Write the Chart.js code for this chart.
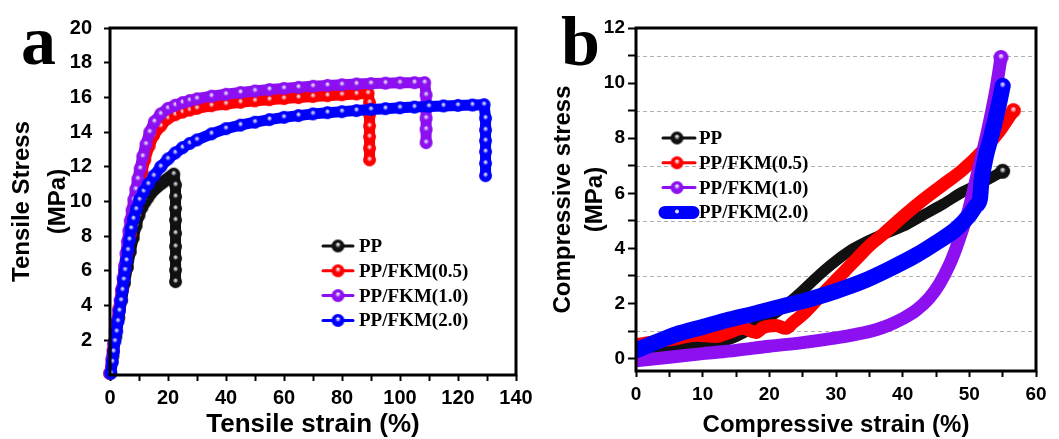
<!DOCTYPE html>
<html>
<head>
<meta charset="utf-8">
<script src="https://cdn.jsdelivr.net/npm/chart.js@4/dist/chart.umd.min.js"></script>
<style>
  html, body { margin: 0; padding: 0; background: #fff; }
  #wrap { position: relative; width: 1059px; height: 439px; overflow: hidden; }
  #chartA { position: absolute; left: 0; top: 0; }
  #chartB { position: absolute; left: 530px; top: 0; }
</style>
</head>
<body>
<div id="wrap">
  <canvas id="chartA" width="545" height="439"></canvas>
  <canvas id="chartB" width="529" height="439"></canvas>
</div>
<script>
// series
var seriesLabels = ['PP', 'PP/FKM(0.5)', 'PP/FKM(1.0)', 'PP/FKM(2.0)'];
var seriesColors = ['#111111', '#ff0000', '#8c10f0', '#0000ff'];

// (a) tensile - tick labels
var tensileXLabels = [0, 20, 40, 60, 80, 100, 120, 140];
var tensileYLabels = [2, 4, 6, 8, 10, 12, 14, 16, 18, 20];

// (a) tensile curves (strain %, stress MPa)
var ppTensileStrain = [0, 1, 2, 3, 4, 5, 6, 7, 8, 9, 10, 11, 12, 13, 14, 15, 16, 17, 18, 19, 20, 21, 22,
  22.6, 22.6, 22.6, 22.6, 22.6, 22.6, 22.6, 22.6, 22.6];
var ppTensileStress = [0.1, 1.1, 2.2, 3.3, 4.3, 5.3, 6.2, 7.1, 7.9, 8.6, 9.2, 9.65, 9.95, 10.2, 10.45, 10.65, 10.8, 10.95, 11.07, 11.2, 11.32, 11.45, 11.58,
  10.95, 10.28, 9.6, 8.93, 8.17, 7.4, 6.72, 6.05, 5.38];

var fkm05TensileStrain = [0, 1, 2, 3, 4, 5, 6, 7, 8, 9, 10, 11, 12, 13.5, 15, 17.5, 20, 22.5, 25, 27.5,
  30, 35, 40, 45, 50, 55, 60, 65, 70, 75, 80, 85, 89, 89.5, 89.5, 89.5, 89.5, 89.5, 89.5];
var fkm05TensileStress = [0.1, 1.4, 2.6, 3.8, 4.9, 6.0, 7.1, 8.1, 9.1, 10.0, 10.9, 11.7, 12.4, 13.2, 13.8, 14.35, 14.8, 15.0, 15.15, 15.27,
  15.37, 15.52, 15.62, 15.72, 15.8, 15.87, 15.93, 15.99, 16.05, 16.1, 16.15, 16.2, 16.24, 15.7, 15.0, 14.35, 13.73, 13.07, 12.4];

var fkm10TensileStrain = [0, 0.6, 1.2, 1.8, 2.4, 3.0, 3.5, 4.0, 4.5, 5.0, 5.5, 6.0, 6.5, 7.0, 7.6, 8.2, 8.9, 9.6, 10.4, 11.3,
  12.4, 13.7, 15.3, 17.5, 20, 22.5, 25, 27.5, 30, 35, 40, 45, 50, 55, 60, 65, 70, 75, 80, 85,
  90, 95, 100, 105, 108.5, 109, 109, 109, 109];
var fkm10TensileStress = [0.1, 0.9, 1.8, 2.5, 3.1, 3.7, 4.3, 4.9, 5.6, 6.3, 7.0, 7.7, 8.3, 8.9, 9.5, 10.1, 10.7, 11.3, 11.9, 12.6,
  13.3, 14.0, 14.6, 15.05, 15.37, 15.55, 15.7, 15.82, 15.92, 16.07, 16.18, 16.28, 16.37, 16.45, 16.52, 16.58, 16.64, 16.69, 16.73, 16.77,
  16.8, 16.82, 16.84, 16.85, 16.85, 16.14, 14.8, 14.16, 13.39];

var fkm20TensileStrain = [0.3, 0.8, 1.2, 1.7, 2.3, 2.75, 3.25, 3.8, 4.3, 4.75, 5.2, 5.7, 6.2, 6.7, 7.3, 8.1, 9.05, 10.2, 11.6, 13.2,
  15.1, 17.5, 20, 22.5, 25, 27.5, 30, 35, 40, 45, 50, 55, 60, 65, 70, 75, 80, 85, 90, 95,
  100, 105, 110, 115, 120, 125, 129, 129.5, 129.5, 129.5, 129.5, 129.5, 129.5];
var fkm20TensileStress = [0.1, 0.75, 1.35, 1.95, 2.5, 3.1, 3.7, 4.3, 4.9, 5.5, 6.05, 6.6, 7.2, 7.8, 8.45, 9.0, 9.55, 10.1, 10.57, 11.0,
  11.47, 12.0, 12.45, 12.8, 13.1, 13.35, 13.55, 13.9, 14.2, 14.4, 14.57, 14.72, 14.85, 14.95, 15.05, 15.12, 15.18, 15.24, 15.3, 15.35,
  15.4, 15.44, 15.48, 15.51, 15.54, 15.56, 15.58, 14.8, 14.12, 13.5, 12.87, 12.2, 11.49];

// (b) compressive - tick labels and dashed lines
var compXLabels = [0, 10, 20, 30, 40, 50, 60];
var compYLabels = [0, 2, 4, 6, 8, 10, 12];
var compGridLines = [1, 3, 5, 7, 9, 11];

// (b) compressive curves
var ppCompStrain = [0, 3, 6, 10, 14, 17, 20, 22, 24, 26, 28, 30, 32, 34, 36, 38, 40, 43, 46, 49, 52, 55];
var ppCompStress = [0.2, 0.3, 0.4, 0.52, 0.7, 1.05, 1.5, 1.85, 2.25, 2.7, 3.15, 3.55, 3.9, 4.17, 4.4, 4.6, 4.8, 5.2, 5.6, 6.05, 6.4, 6.8];

var fkm05CompStrain = [0, 3, 6, 9, 12, 14, 16, 18, 19, 21, 22.5, 23.5, 25, 27, 29, 31, 33, 35, 37, 40, 43, 46, 49, 52, 54.5, 56.6];
var fkm05CompStress = [0.5, 0.62, 0.72, 0.85, 0.8, 0.95, 1.1, 0.95, 1.12, 1.2, 1.1, 1.3, 1.6, 2.1, 2.6, 3.1, 3.6, 4.1, 4.5, 5.15, 5.75, 6.3, 6.85, 7.55, 8.25, 9.0];

var fkm10CompStrain = [0, 5, 10, 15, 20, 25, 30, 33, 36, 38, 40, 42, 44, 45.5, 47, 48, 49, 50, 50.8, 51.5, 52.1, 53, 54, 54.75];
var fkm10CompStress = [-0.08, 0.05, 0.18, 0.3, 0.45, 0.58, 0.75, 0.88, 1.05, 1.22, 1.45, 1.75, 2.2, 2.7, 3.4, 4.0, 4.7, 5.5, 6.3, 7.0, 7.6, 8.57, 9.78, 10.93];

var fkm20CompStrain = [0, 3, 6, 10, 14, 18, 22, 26, 30, 34, 38, 42, 45, 48, 50, 51, 51.6, 51.8, 52.5, 53.2, 53.8, 54.5, 55];
var fkm20CompStress = [0.3, 0.6, 0.88, 1.15, 1.42, 1.65, 1.9, 2.15, 2.45, 2.8, 3.25, 3.75, 4.2, 4.7, 5.2, 5.55, 5.8, 6.4, 7.36, 8.0, 8.57, 9.3, 9.9];


function pts(xs, ys) {
  return xs.map(function (x, i) { return { x: x, y: ys[i] }; });
}

// shiny ball used as marker
function bead(color, r) {
  var c = document.createElement('canvas');
  var s = Math.ceil(2 * r + 2);
  c.width = c.height = s;
  var g = c.getContext('2d');
  var m = s / 2;
  var grd = g.createRadialGradient(m, m - r * 0.25, 0, m, m, r);
  grd.addColorStop(0, 'rgba(255,255,255,0.95)');
  grd.addColorStop(0.18, 'rgba(235,235,255,0.7)');
  grd.addColorStop(0.4, color);
  grd.addColorStop(1, color);
  g.fillStyle = grd;
  g.beginPath();
  g.arc(m, m, r, 0, Math.PI * 2);
  g.fill();
  return c;
}

var smallBeads = seriesColors.map(function (c) { return bead(c, 6.5); });
var bigBeads = seriesColors.map(function (c) { return bead(c, 7.5); });
var legendBeads = seriesColors.map(function (c) { return bead(c, 6.5); });

function tensileSet(i, xs, ys) {
  return {
    label: seriesLabels[i],
    data: pts(xs, ys),
    borderColor: seriesColors[i],
    backgroundColor: seriesColors[i],
    borderWidth: 11,
    borderJoinStyle: 'round',
    borderCapStyle: 'round',
    pointStyle: smallBeads[i],
    pointRadius: 6,
    tension: 0,
    order: 4 - i,
    clip: false
  };
}

function compSet(i, xs, ys, w) {
  var last = xs.length - 1;
  return {
    label: seriesLabels[i],
    data: pts(xs, ys),
    borderColor: seriesColors[i],
    backgroundColor: seriesColors[i],
    borderWidth: w,
    borderCapStyle: 'round',
    borderJoinStyle: 'round',
    cubicInterpolationMode: 'monotone',
    pointStyle: bigBeads[i],
    pointRadius: function (ctx) { return ctx.dataIndex === last ? 7 : 0; },
    order: 4 - i,
    clip: { left: 0, top: 20, right: 20, bottom: 0 }
  };
}

// box, dashed lines, legend, panel letter
var panelPlugin = {
  id: 'panel',
  beforeDatasetsDraw: function (chart, args, o) {
    if (!o.grid) return;
    var ctx = chart.ctx, a = chart.chartArea, ys = chart.scales.y;
    ctx.save();
    ctx.strokeStyle = '#b0b0b0';
    ctx.lineWidth = 1;
    ctx.setLineDash([4, 3]);
    o.grid.forEach(function (v) {
      var y = Math.round(ys.getPixelForValue(v)) + 0.5;
      ctx.beginPath();
      ctx.moveTo(a.left, y);
      ctx.lineTo(a.right, y);
      ctx.stroke();
    });
    ctx.restore();
  },
  afterDatasetsDraw: function (chart) {
    var ctx = chart.ctx, a = chart.chartArea;
    ctx.save();
    ctx.strokeStyle = '#000';
    ctx.lineWidth = 3;
    ctx.strokeRect(a.left, a.top, a.right - a.left, a.bottom - a.top);
    ctx.restore();
  },
  afterDraw: function (chart, args, o) {
    var ctx = chart.ctx;
    var lg = o.legend;
    ctx.save();
    chart.data.datasets.forEach(function (ds, i) {
      var y = lg.y + i * lg.dy;
      ctx.strokeStyle = ds.borderColor;
      ctx.lineCap = 'round';
      if (lg.bar === i) {
        ctx.lineWidth = 13;
        ctx.beginPath();
        ctx.moveTo(lg.barX0, y);
        ctx.lineTo(lg.barX1, y);
        ctx.stroke();
        ctx.fillStyle = '#ddddff';
        ctx.beginPath();
        ctx.arc(lg.dot, y - 1, 2, 0, Math.PI * 2);
        ctx.fill();
      } else {
        ctx.lineWidth = 3;
        ctx.beginPath();
        ctx.moveTo(lg.x0, y);
        ctx.lineTo(lg.x1, y);
        ctx.stroke();
        var b = legendBeads[i];
        ctx.drawImage(b, lg.dot - b.width / 2, y - b.height / 2);
      }
      ctx.fillStyle = '#000';
      ctx.font = 'bold 19px "Liberation Serif"';
      ctx.textBaseline = 'middle';
      ctx.textAlign = 'left';
      ctx.fillText(ds.label, lg.text, y + 1);
    });
    ctx.font = 'bold 70px "Liberation Serif"';
    ctx.textBaseline = 'alphabetic';
    ctx.fillText(o.letter.text, o.letter.x, o.letter.y);
    ctx.restore();
  }
};

var tickFont = function (size) { return { family: 'Liberation Sans', weight: 'bold', size: size }; };

new Chart(document.getElementById('chartA'), {
  type: 'line',
  data: {
    datasets: [
      tensileSet(0, ppTensileStrain, ppTensileStress),
      tensileSet(1, fkm05TensileStrain, fkm05TensileStress),
      tensileSet(2, fkm10TensileStrain, fkm10TensileStress),
      tensileSet(3, fkm20TensileStrain, fkm20TensileStress)
    ]
  },
  options: {
    responsive: false,
    animation: false,
    events: [],
    devicePixelRatio: 1,
    layout: { padding: { top: 28, right: 29, left: 0, bottom: 0 } },
    plugins: {
      legend: { display: false },
      tooltip: { enabled: false },
      panel: {
        legend: { y: 246, dy: 24.8, x0: 323, x1: 353, dot: 338, text: 359 },
        letter: { text: 'a', x: 21, y: 64 }
      }
    },
    scales: {
      x: {
        type: 'linear', min: 0, max: 140,
        afterFit: function (s) { s.height = 64; },
        ticks: {
          stepSize: 10, autoSkip: false, maxRotation: 0, padding: 5, color: '#000', font: tickFont(20),
          callback: function (v) { return tensileXLabels.indexOf(v) >= 0 ? v : ''; }
        },
        grid: { drawOnChartArea: false, drawTicks: true, tickLength: 6, tickWidth: 2, tickColor: '#000' },
        border: { display: false },
        title: { display: true, text: 'Tensile strain (%)', color: '#000',
          font: { family: 'Liberation Sans', weight: 'bold', size: 26, lineHeight: 1 }, padding: { top: 0, bottom: 1 } }
      },
      y: {
        type: 'linear', min: 0, max: 20,
        afterFit: function (s) { s.width = 110; },
        ticks: {
          stepSize: 2, autoSkip: false, padding: 12, color: '#000', font: tickFont(20),
          callback: function (v) { return tensileYLabels.indexOf(v) >= 0 ? v : ''; }
        },
        grid: { drawOnChartArea: false, drawTicks: true, tickLength: 6, tickWidth: 2, tickColor: '#000' },
        border: { display: false },
        title: { display: true, text: ['Tensile Stress', '(MPa)'], color: '#000',
          font: { family: 'Liberation Sans', weight: 'bold', size: 24, lineHeight: 1.5 }, padding: { top: 4, bottom: 0 } }
      }
    }
  },
  plugins: [panelPlugin]
});

new Chart(document.getElementById('chartB'), {
  type: 'line',
  data: {
    datasets: [
      compSet(0, ppCompStrain, ppCompStress, 11),
      compSet(1, fkm05CompStrain, fkm05CompStress, 13),
      compSet(2, fkm10CompStrain, fkm10CompStress, 13),
      compSet(3, fkm20CompStrain, fkm20CompStress, 16)
    ]
  },
  options: {
    responsive: false,
    animation: false,
    events: [],
    devicePixelRatio: 1,
    layout: { padding: { top: 28, right: 15, left: 0, bottom: 0 } },
    plugins: {
      legend: { display: false },
      tooltip: { enabled: false },
      panel: {
        grid: compGridLines,
        legend: { y: 138, dy: 24.8, x0: 133, x1: 165, dot: 147, text: 169, bar: 3, barX0: 135, barX1: 163 },
        letter: { text: 'b', x: 31, y: 65 }
      }
    },
    scales: {
      x: {
        type: 'linear', min: 0, max: 60,
        afterFit: function (s) { s.height = 68; },
        ticks: {
          stepSize: 5, autoSkip: false, maxRotation: 0, padding: 6, color: '#000', font: tickFont(19),
          callback: function (v) { return compXLabels.indexOf(v) >= 0 ? v : ''; }
        },
        grid: { drawOnChartArea: false, drawTicks: true, tickLength: 6, tickWidth: 2, tickColor: '#000' },
        border: { display: false },
        title: { display: true, text: 'Compressive strain (%)', color: '#000',
          font: { family: 'Liberation Sans', weight: 'bold', size: 24, lineHeight: 1 }, padding: { top: 0, bottom: 2 } }
      },
      y: {
        type: 'linear', min: -0.45, max: 12,
        afterFit: function (s) { s.width = 106; },
        afterBuildTicks: function (s) {
          s.ticks = s.ticks.filter(function (t) { return Number.isInteger(t.value); });
        },
        ticks: {
          stepSize: 1, autoSkip: false, includeBounds: false, padding: 3, color: '#000', font: tickFont(19),
          callback: function (v) { return compYLabels.indexOf(v) >= 0 ? v : ''; }
        },
        grid: { drawOnChartArea: false, drawTicks: true, tickLength: 8, tickWidth: 2, tickColor: '#000' },
        border: { display: false },
        title: { display: true, text: ['Compressive stress', '(MPa)'], color: '#000',
          font: { family: 'Liberation Sans', weight: 'bold', size: 24, lineHeight: 1.333 }, padding: { top: 17, bottom: 0 } }
      }
    }
  },
  plugins: [panelPlugin]
});
</script>
</body>
</html>
